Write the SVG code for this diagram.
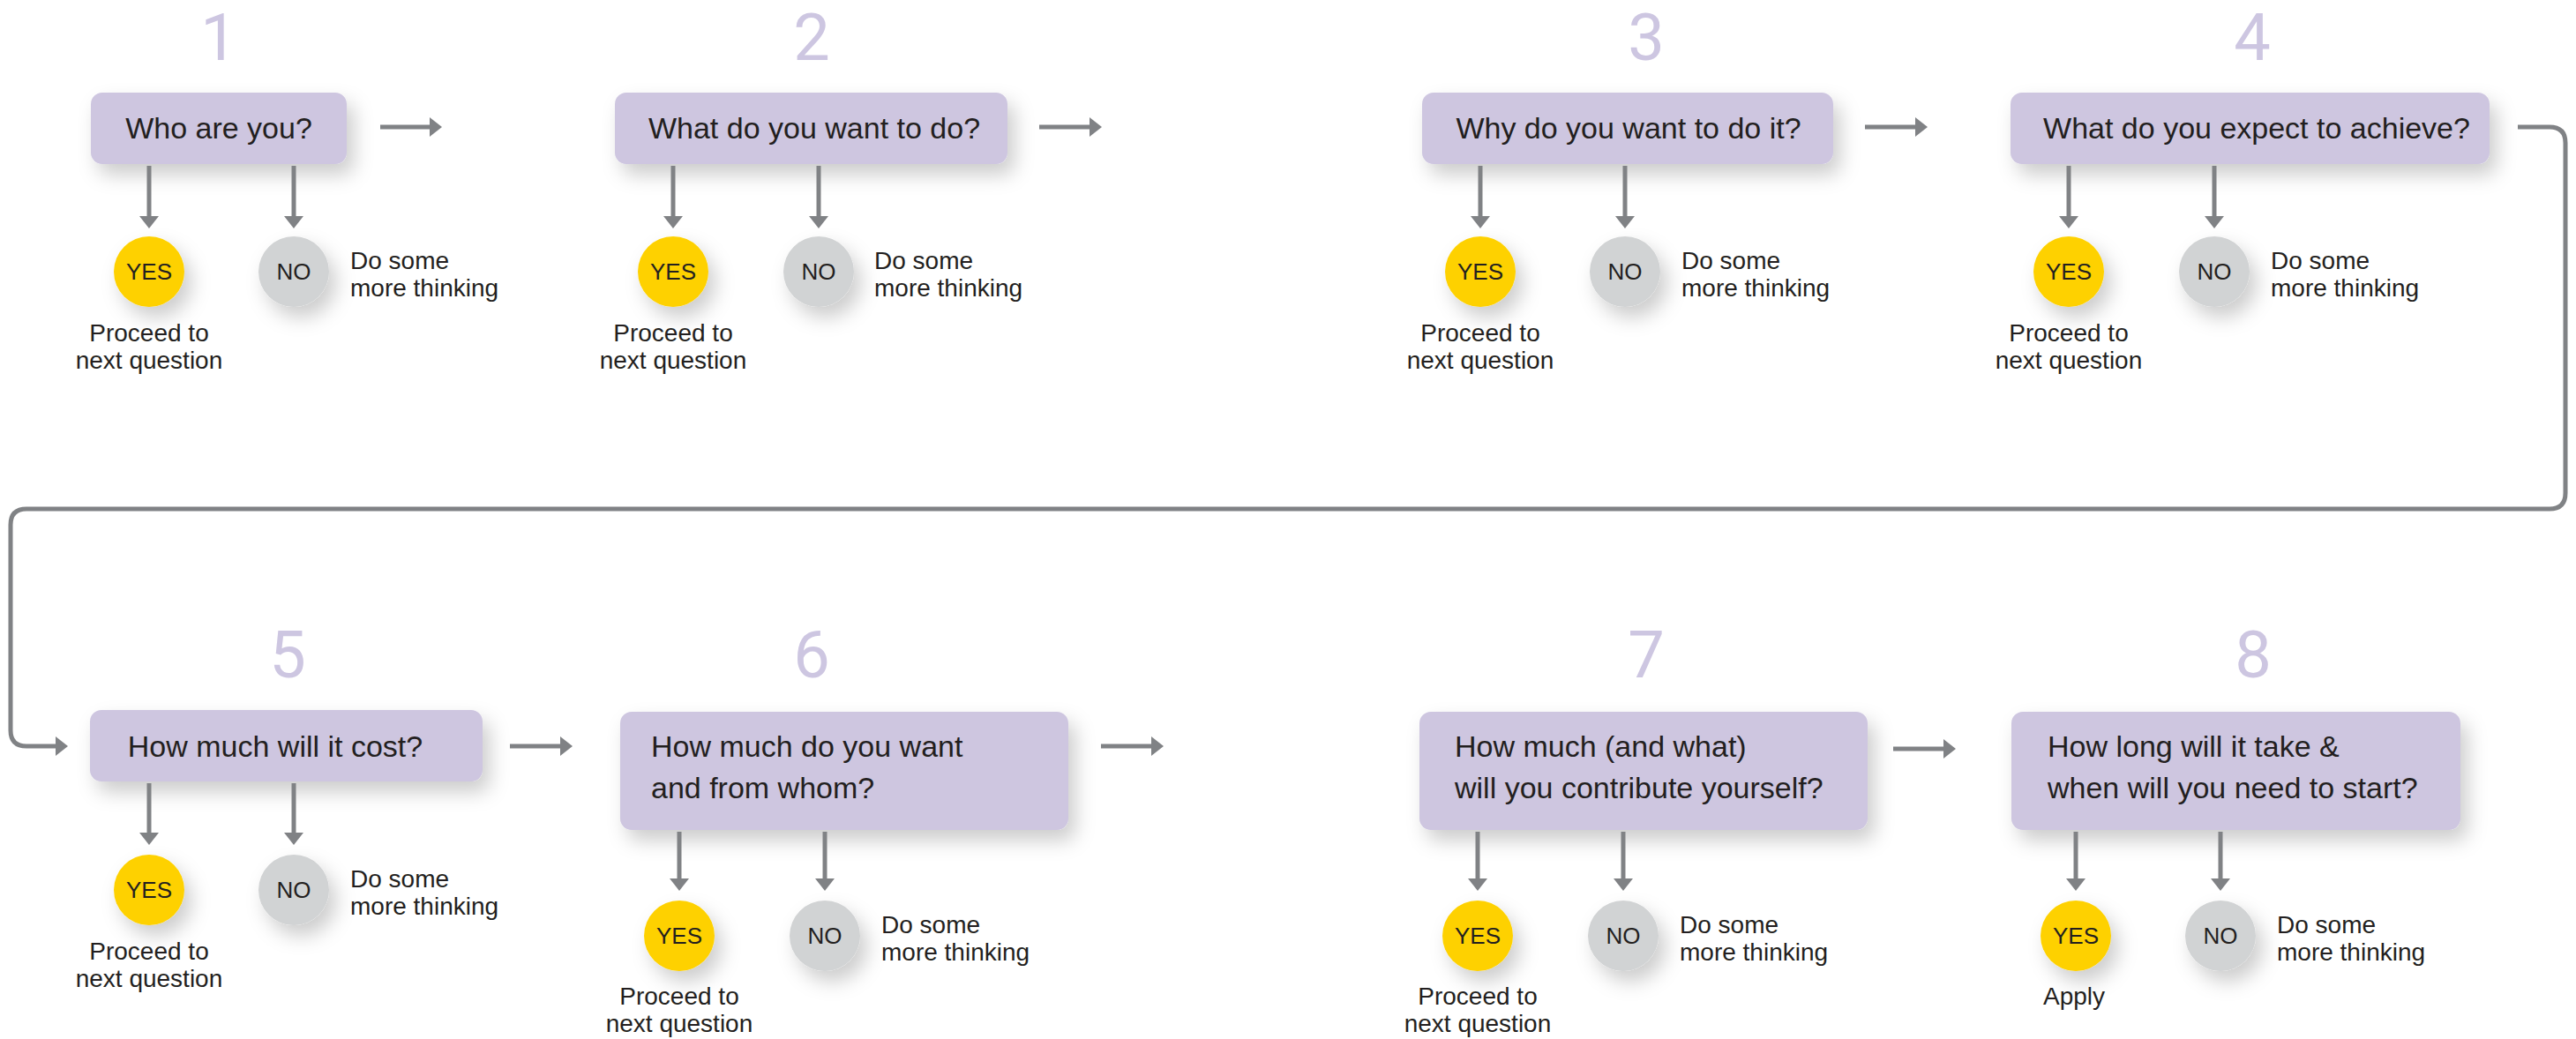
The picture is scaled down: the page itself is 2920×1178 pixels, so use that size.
<svg xmlns="http://www.w3.org/2000/svg" width="2920" height="1178" viewBox="0 0 2920 1178">
<defs>
<filter id="sh" x="-30%" y="-40%" width="170%" height="200%">
<feDropShadow dx="8" dy="12" stdDeviation="11" flood-color="#000" flood-opacity="0.2"/>
</filter>
<marker id="ah" markerUnits="userSpaceOnUse" markerWidth="15" markerHeight="24" refX="1" refY="11" orient="auto">
<path d="M0,0 L14,11 L0,22 z" fill="#808285"/>
</marker>
</defs>
<style>
.box{fill:#cec6e0;filter:url(#sh)}
.yes{fill:#fed100;filter:url(#sh)}
.no{fill:#d1d3d4;filter:url(#sh)}
.q{font-family:"Liberation Sans",Arial,sans-serif;font-size:34px;fill:#231f20}
.num{font-family:Roboto,"Liberation Sans",sans-serif;font-weight:400;font-size:74px;fill:#cdc6e1;text-anchor:middle}
.c{font-family:"Liberation Sans",Arial,sans-serif;font-size:26px;fill:#231f20;text-anchor:middle}
.l{font-family:"Liberation Sans",Arial,sans-serif;font-size:28px;fill:#231f20}
.m{text-anchor:middle}
.conn line,.conn path{stroke:#808285;stroke-width:5;fill:none;marker-end:url(#ah)}
</style>
<rect width="2920" height="1178" fill="#fff"/>

<g id="q1">
<text class="num" x="248" y="68">1</text>
<rect class="box" x="103" y="105" width="290" height="81" rx="13"/>
<text class="q m" x="248" y="157">Who are you?</text>
</g>
<g id="q1-yes"><circle class="yes" cx="169" cy="308" r="40"/><text class="c" x="169" y="317">YES</text>
<text class="l m" x="169" y="387">Proceed to</text><text class="l m" x="169" y="418">next question</text></g>
<g id="q1-no"><circle class="no" cx="333" cy="308" r="40"/><text class="c" x="333" y="317">NO</text>
<text class="l" x="397" y="305">Do some</text><text class="l" x="397" y="336">more thinking</text></g>

<g id="q2">
<text class="num" x="920" y="68">2</text>
<rect class="box" x="697" y="105" width="445" height="81" rx="13"/>
<text class="q m" x="923" y="157">What do you want to do?</text>
</g>
<g id="q2-yes"><circle class="yes" cx="763" cy="308" r="40"/><text class="c" x="763" y="317">YES</text>
<text class="l m" x="763" y="387">Proceed to</text><text class="l m" x="763" y="418">next question</text></g>
<g id="q2-no"><circle class="no" cx="928" cy="308" r="40"/><text class="c" x="928" y="317">NO</text>
<text class="l" x="991" y="305">Do some</text><text class="l" x="991" y="336">more thinking</text></g>

<g id="q3">
<text class="num" x="1866" y="68">3</text>
<rect class="box" x="1612" y="105" width="466" height="81" rx="13"/>
<text class="q m" x="1846" y="157">Why do you want to do it?</text>
</g>
<g id="q3-yes"><circle class="yes" cx="1678" cy="308" r="40"/><text class="c" x="1678" y="317">YES</text>
<text class="l m" x="1678" y="387">Proceed to</text><text class="l m" x="1678" y="418">next question</text></g>
<g id="q3-no"><circle class="no" cx="1842" cy="308" r="40"/><text class="c" x="1842" y="317">NO</text>
<text class="l" x="1906" y="305">Do some</text><text class="l" x="1906" y="336">more thinking</text></g>

<g id="q4">
<text class="num" x="2553" y="68">4</text>
<rect class="box" x="2279" y="105" width="543" height="81" rx="13"/>
<text class="q m" x="2558" y="157">What do you expect to achieve?</text>
</g>
<g id="q4-yes"><circle class="yes" cx="2345" cy="308" r="40"/><text class="c" x="2345" y="317">YES</text>
<text class="l m" x="2345" y="387">Proceed to</text><text class="l m" x="2345" y="418">next question</text></g>
<g id="q4-no"><circle class="no" cx="2510" cy="308" r="40"/><text class="c" x="2510" y="317">NO</text>
<text class="l" x="2574" y="305">Do some</text><text class="l" x="2574" y="336">more thinking</text></g>

<g id="q5">
<text class="num" x="326" y="768">5</text>
<rect class="box" x="102" y="805" width="445" height="81" rx="13"/>
<text class="q m" x="312" y="858">How much will it cost?</text>
</g>
<g id="q5-yes"><circle class="yes" cx="169" cy="1009" r="40"/><text class="c" x="169" y="1018">YES</text>
<text class="l m" x="169" y="1088">Proceed to</text><text class="l m" x="169" y="1119">next question</text></g>
<g id="q5-no"><circle class="no" cx="333" cy="1009" r="40"/><text class="c" x="333" y="1018">NO</text>
<text class="l" x="397" y="1006">Do some</text><text class="l" x="397" y="1037">more thinking</text></g>

<g id="q6">
<text class="num" x="920" y="768">6</text>
<rect class="box" x="703" y="807" width="508" height="134" rx="13"/>
<text class="q" x="738" y="858">How much do you want</text>
<text class="q" x="738" y="905">and from whom?</text>
</g>
<g id="q6-yes"><circle class="yes" cx="770" cy="1061" r="40"/><text class="c" x="770" y="1070">YES</text>
<text class="l m" x="770" y="1139">Proceed to</text><text class="l m" x="770" y="1170">next question</text></g>
<g id="q6-no"><circle class="no" cx="935" cy="1061" r="40"/><text class="c" x="935" y="1070">NO</text>
<text class="l" x="999" y="1058">Do some</text><text class="l" x="999" y="1089">more thinking</text></g>

<g id="q7">
<text class="num" x="1866" y="768">7</text>
<rect class="box" x="1609" y="807" width="508" height="134" rx="13"/>
<text class="q" x="1649" y="858">How much (and what)</text>
<text class="q" x="1649" y="905">will you contribute yourself?</text>
</g>
<g id="q7-yes"><circle class="yes" cx="1675" cy="1061" r="40"/><text class="c" x="1675" y="1070">YES</text>
<text class="l m" x="1675" y="1139">Proceed to</text><text class="l m" x="1675" y="1170">next question</text></g>
<g id="q7-no"><circle class="no" cx="1840" cy="1061" r="40"/><text class="c" x="1840" y="1070">NO</text>
<text class="l" x="1904" y="1058">Do some</text><text class="l" x="1904" y="1089">more thinking</text></g>

<g id="q8">
<text class="num" x="2554" y="768">8</text>
<rect class="box" x="2280" y="807" width="509" height="134" rx="13"/>
<text class="q" x="2321" y="858">How long will it take &amp;</text>
<text class="q" x="2321" y="905">when will you need to start?</text>
</g>
<g id="q8-yes"><circle class="yes" cx="2353" cy="1061" r="40"/><text class="c" x="2353" y="1070">YES</text>
<text class="l m" x="2351" y="1139">Apply</text></g>
<g id="q8-no"><circle class="no" cx="2517" cy="1061" r="40"/><text class="c" x="2517" y="1070">NO</text>
<text class="l" x="2581" y="1058">Do some</text><text class="l" x="2581" y="1089">more thinking</text></g>

<g id="connectors" class="conn">
<line x1="431" y1="144" x2="488" y2="144"/>
<line x1="1178" y1="144" x2="1236" y2="144"/>
<line x1="2114" y1="144" x2="2172" y2="144"/>
<path d="M2854,144 H2890 Q2908,144 2908,162 V559 Q2908,577 2890,577 H30 Q12,577 12,595 V828 Q12,846 30,846 H64"/>
<line x1="578" y1="846" x2="636" y2="846"/>
<line x1="1248" y1="846" x2="1306" y2="846"/>
<line x1="2146" y1="849" x2="2204" y2="849"/>
<line x1="169" y1="188" x2="169" y2="246"/>
<line x1="333" y1="188" x2="333" y2="246"/>
<line x1="763" y1="188" x2="763" y2="246"/>
<line x1="928" y1="188" x2="928" y2="246"/>
<line x1="1678" y1="188" x2="1678" y2="246"/>
<line x1="1842" y1="188" x2="1842" y2="246"/>
<line x1="2345" y1="188" x2="2345" y2="246"/>
<line x1="2510" y1="188" x2="2510" y2="246"/>
<line x1="169" y1="888" x2="169" y2="945"/>
<line x1="333" y1="888" x2="333" y2="945"/>
<line x1="770" y1="943" x2="770" y2="997"/>
<line x1="935" y1="943" x2="935" y2="997"/>
<line x1="1675" y1="943" x2="1675" y2="997"/>
<line x1="1840" y1="943" x2="1840" y2="997"/>
<line x1="2353" y1="943" x2="2353" y2="997"/>
<line x1="2517" y1="943" x2="2517" y2="997"/>
</g>
</svg>
